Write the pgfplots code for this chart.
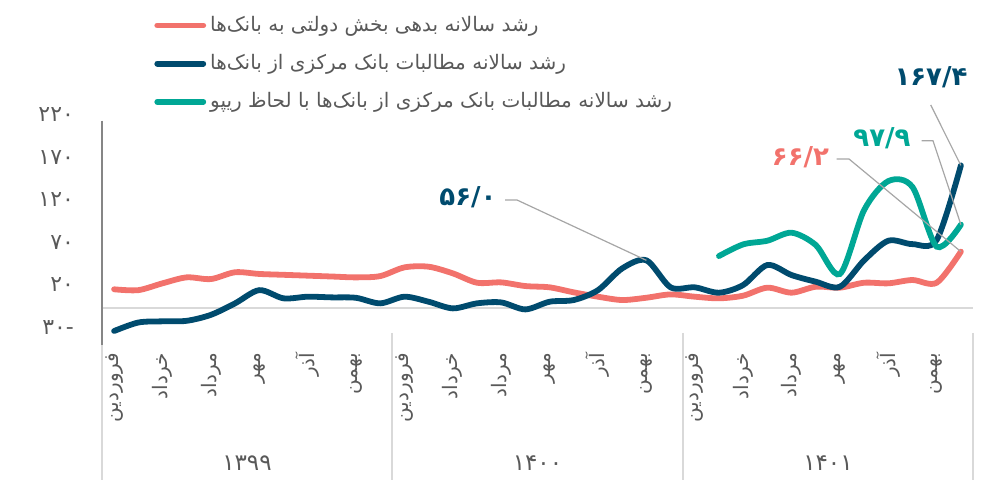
\documentclass[border=0pt]{standalone}
\usepackage{pgfplots}
\pgfplotsset{compat=1.18}
\usepackage{fontspec}
\setmainfont{DejaVu Sans}
\newfontfamily\fa[Script=Arabic]{DejaVu Sans}
\TeXXeTstate=1
\definecolor{cred}{HTML}{F2726C}
\definecolor{cblue}{HTML}{004B6E}
\definecolor{cteal}{HTML}{00A795}
\definecolor{ctext}{HTML}{595959}
\definecolor{caxis}{HTML}{868686}
\definecolor{cgrid}{HTML}{D9D9D9}
\definecolor{cleader}{HTML}{A6A6A6}
\newcommand{\R}[1]{\beginR #1\endR}
\pgfplotstableread{
x y
0 22
1 21
2 29
3 36
4 34
5 42
6 40
7 39
8 38
9 37
10 36
11 37.5
12 47.7
13 48.5
14 40.7
15 29.7
16 30.1
17 25.8
18 24.3
19 18.4
20 13.3
21 9.4
22 12.1
23 16
24 13.3
25 11.4
26 14.5
27 23.9
28 18
29 25
30 23.9
31 29.7
32 29
33 32.9
34 29.7
35 66.2
}\tred
\pgfplotstableread{
x y
0 -27
1 -17
2 -15.6
3 -15
4 -8
5 5.5
6 21
7 11.4
8 13.3
9 12.5
10 12
11 5.5
12 13.3
13 7.4
14 -0.4
15 5.5
16 6.6
17 -1.6
18 7.4
19 9.4
20 21
21 46.5
22 56
23 24.3
24 24.3
25 18
26 27
27 50.5
28 38.7
29 30.9
30 25
31 56
32 79
33 75
34 80
35 167.4
}\tblue
\pgfplotstableread{
x y
25 61
26 74.7
27 79
28 88.4
29 74
30 40
31 115
32 149
33 142
34 72
35 97.9
}\tteal
\begin{document}
\begin{tikzpicture}
\useasboundingbox (0pt,0pt) rectangle (493.5pt,241pt);
\begin{axis}[
  at={(51pt,74.2pt)}, anchor=south west,
  scale only axis, width=435.5pt, height=106.5pt,
  xmin=-0.5, xmax=35.5, ymin=-30, ymax=220,
  clip=false,
  axis line style={draw=none},
  tick style={draw=none},
  ytick={-30,20,70,120,170,220},
  yticklabels={{-۳۰},{۲۰},{۷۰},{۱۲۰},{۱۷۰},{۲۲۰}},
  yticklabel style={font=\fa\fontsize{11}{13}\selectfont, text=ctext, anchor=east, xshift=-10.5pt, yshift=3pt},
  xtick={0,2,...,34},
  xticklabels={\R{فروردین},\R{خرداد},\R{مرداد},\R{مهر},\R{آذر},\R{بهمن},\R{فروردین},\R{خرداد},\R{مرداد},\R{مهر},\R{آذر},\R{بهمن},\R{فروردین},\R{خرداد},\R{مرداد},\R{مهر},\R{آذر},\R{بهمن}},
  xticklabel style={font=\fa\fontsize{10}{12}\selectfont, text=ctext, rotate=90, anchor=east},
  xticklabel shift=6pt,
  legend style={at={(axis description cs:0.0528,1.529)}, anchor=north west, draw=none, fill=none,
    font=\fa\fontsize{10}{12}\selectfont, text=ctext, row sep=6pt},
  legend cell align=left,
  legend image code/.code={\draw[#1, line width=2.9pt, line cap=round] (0pt,0pt) -- (23pt,0pt);},
]
\draw[cgrid, line width=1pt] (axis cs:-0.5,0) -- (axis cs:35.5,0);
\addplot[cred, line width=2.9pt, smooth, line cap=round] table {\tred};
\addlegendentry{\R{رشد سالانه بدهی بخش دولتی به بانک‌ها}}
\addplot[cblue, line width=2.9pt, smooth, line cap=round] table {\tblue};
\addlegendentry{\R{رشد سالانه مطالبات بانک مرکزی از بانک‌ها}}
\addplot[cteal, line width=2.9pt, smooth, line cap=round] table {\tteal};
\addlegendentry{\R{رشد سالانه مطالبات بانک مرکزی از بانک‌ها با لحاظ ریپو}}
\coordinate (p56) at (axis cs:22,56);
\coordinate (p167) at (axis cs:35,167.4);
\coordinate (p98) at (axis cs:35,97.9);
\coordinate (p66) at (axis cs:35,66.2);
\end{axis}
\begin{scope}[x=0.5pt,y=0.5pt]
% axis and separators
\draw[caxis, line width=1.2pt] (102,361.4) -- (102,137);
\draw[cgrid, line width=1pt] (102,137) -- (102,2);
\foreach \xx in {392,683,973} \draw[cgrid, line width=1pt] (\xx,149) -- (\xx,2);
% year labels
\node[font=\fa\fontsize{11.5}{13}\selectfont, text=ctext] at (247,19) {۱۳۹۹};
\node[font=\fa\fontsize{11.5}{13}\selectfont, text=ctext] at (537.5,19) {۱۴۰۰};
\node[font=\fa\fontsize{11.5}{13}\selectfont, text=ctext] at (828,19) {۱۴۰۱};
% data labels and leaders
\draw[cleader, line width=0.6pt] (505,282) -- (517,282) -- (p56);
\node[font=\fa\bfseries\fontsize{13}{15}\selectfont, text=cblue] at (468,285) {۵۶/۰};
\draw[cleader, line width=0.6pt] (930.7,377) -- (p167);
\node[font=\fa\bfseries\fontsize{13}{15}\selectfont, text=cblue] at (931,405) {۱۶۷/۴};
\draw[cleader, line width=0.6pt] (921.7,341.3) -- (933,341.3) -- (p98);
\node[font=\fa\bfseries\fontsize{13}{15}\selectfont, text=cteal] at (882,343.5) {۹۷/۹};
\draw[cleader, line width=0.6pt] (836.7,323) -- (849,323) -- (p66);
\node[font=\fa\bfseries\fontsize{13}{15}\selectfont, text=cred] at (800.5,325) {۶۶/۲};
\end{scope}
\end{tikzpicture}
\end{document}
